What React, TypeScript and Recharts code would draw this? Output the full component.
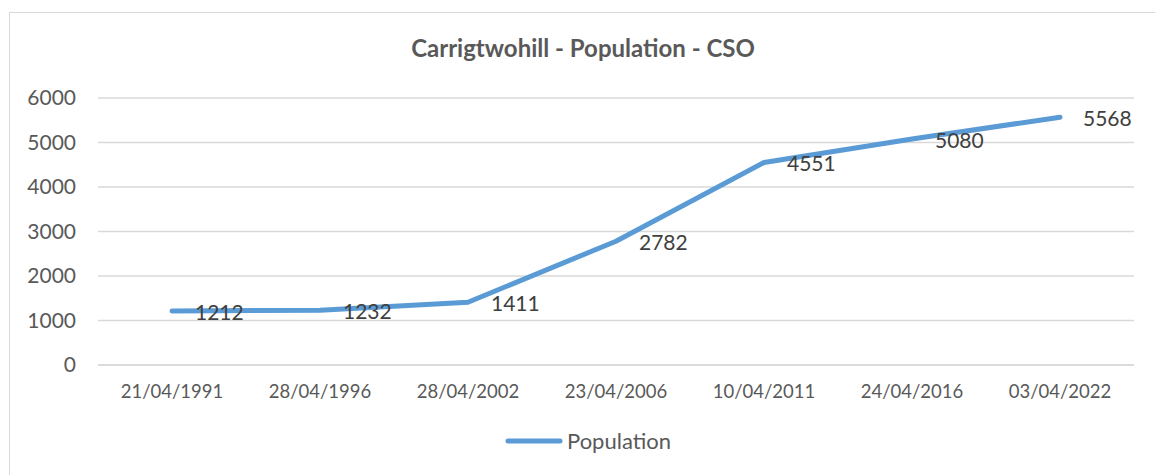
import React from 'react';
import { LineChart, Line, XAxis, YAxis, CartesianGrid, LabelList } from 'recharts';

const censusDates = ['21/04/1991', '28/04/1996', '28/04/2002', '23/04/2006', '10/04/2011', '24/04/2016', '03/04/2022'];
const population = [1212, 1232, 1411, 2782, 4551, 5080, 5568];
const yTicks = [0, 1000, 2000, 3000, 4000, 5000, 6000];

const data = censusDates.map((date, i) => ({ date, Population: population[i] }));

const FONT = 'Lato, "Open Sans", sans-serif';

const PointLabel = (props: any) => {
    const { x, y, value } = props;
    return (
        <text x={x + 23} y={y + 1} dy="0.36em" fill="#404040" fontSize={21} fontFamily={FONT}>
            {value}
        </text>
    );
};

export default function App() {
    return (
        <div style={{ position: 'absolute', left: 0, top: 0, width: 1155, height: 475, background: '#fff', overflow: 'hidden' }}>
            {/* chart frame runs off the right and bottom of the picture */}
            <div style={{ position: 'absolute', left: 9, top: 12, width: 1200, height: 520, border: '1.5px solid #d9d9d9' }} />
            <div style={{ position: 'absolute', left: 0, top: 33, width: 1166, textAlign: 'center', fontFamily: FONT, fontWeight: 700, fontSize: 24, lineHeight: '30px', color: '#595959' }}>
                Carrigtwohill - Population - CSO
            </div>
            <div style={{ position: 'absolute', left: 0, top: 0 }}>
                {/* x axis height (30) is added on top of the bottom margin */}
                <LineChart width={1155} height={475} data={data} margin={{ top: 98, right: 21, bottom: 80, left: 0 }}>
                    <CartesianGrid vertical={false} stroke="#d9d9d9" strokeWidth={1.5} />
                    <XAxis
                        dataKey="date"
                        height={30}
                        padding={{ left: 74, right: 74 }}
                        axisLine={{ stroke: '#d9d9d9', strokeWidth: 1.5 }}
                        tickLine={false}
                        tickSize={0}
                        tickMargin={20}
                        tick={{ fill: '#595959', fontSize: 18.5, fontFamily: FONT }}
                        interval={0}
                    />
                    <YAxis
                        width={98}
                        domain={[0, 6000]}
                        ticks={yTicks}
                        axisLine={false}
                        tickLine={false}
                        tickSize={0}
                        tickMargin={22}
                        tick={{ fill: '#595959', fontSize: 21, fontFamily: FONT }}
                    />
                    <Line
                        type="linear"
                        dataKey="Population"
                        stroke="#5b9bd5"
                        strokeWidth={5}
                        strokeLinecap="round"
                        strokeLinejoin="round"
                        dot={false}
                        isAnimationActive={false}
                    >
                        <LabelList dataKey="Population" content={<PointLabel />} />
                    </Line>
                </LineChart>
            </div>
            <div style={{ position: 'absolute', left: 504, top: 427, display: 'flex', alignItems: 'center', fontFamily: FONT, fontSize: 22, lineHeight: '28px', color: '#595959' }}>
                <svg width={60} height={8} style={{ marginRight: 3 }}>
                    <line x1={4} y1={4} x2={56} y2={4} stroke="#5b9bd5" strokeWidth={5} strokeLinecap="round" />
                </svg>
                <span>Population</span>
            </div>
        </div>
    );
}
